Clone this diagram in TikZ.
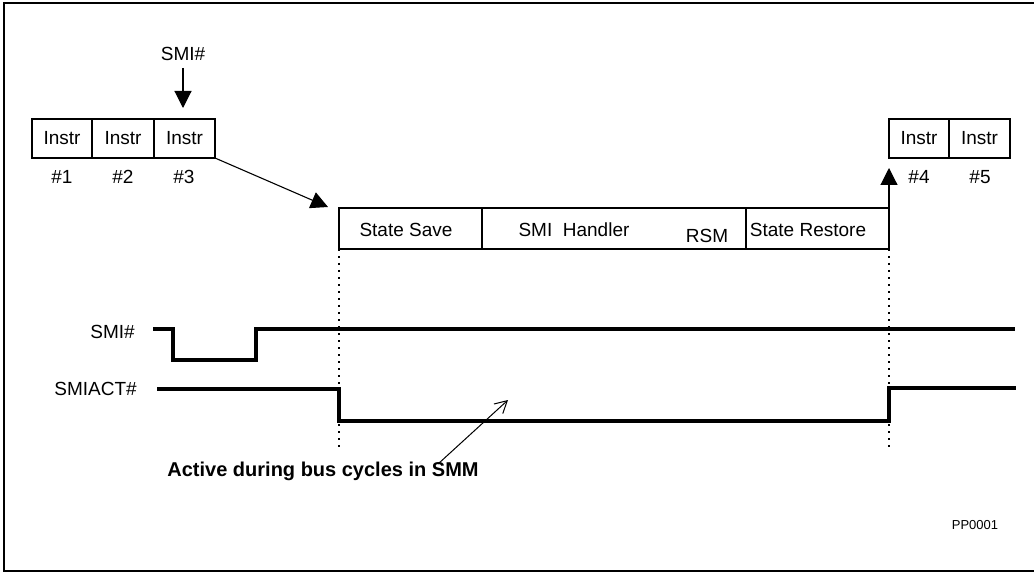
\documentclass[tikz,border=0pt]{standalone}
\usepackage{fontspec}
\setmainfont{Liberation Sans}
\usetikzlibrary{arrows.meta}
\begin{document}
\begin{tikzpicture}[x=1pt,y=-1pt,
  cell/.style={draw, line width=1.1pt, inner sep=0pt, outer sep=0pt, minimum height=39pt, font=\fontsize{19}{22}\selectfont},
  bigcell/.style={draw, line width=1.1pt, inner sep=0pt, outer sep=0pt, minimum height=41pt, minimum width=#1},
  lbl/.style={font=\fontsize{19}{22}\selectfont, inner sep=0pt},
  wave/.style={line width=3.5pt},
  bigarrow/.style={line width=1.1pt, -{Triangle[length=17pt,width=17pt]}},
  dotline/.style={line width=1.2pt, dash pattern=on 2pt off 5pt},
  notearrow/.style={line width=1pt, -{Straight Barb[length=12pt,width=13pt]}},
]
\useasboundingbox (0,0) rectangle (1034,572);
\draw[line width=1.8pt] (1040,3) -- (4,3) -- (4,571) -- (1040,571);

% instruction boxes
\node[cell, minimum width=60pt] (i1) at (62,138.5) {Instr};
\node[cell, minimum width=62pt] (i2) at (123,138.5) {Instr};
\node[cell, minimum width=61pt] (i3) at (184.5,138.5) {Instr};
\node[cell, minimum width=60pt] (i4) at (919,138.5) {Instr};
\node[cell, minimum width=61pt] (i5) at (979.5,138.5) {Instr};
\node[lbl] (n1) at (62,177) {\#1};
\node[lbl] (n2) at (123,177) {\#2};
\node[lbl] (n3) at (184,177) {\#3};
\node[lbl] (n4) at (919,177) {\#4};
\node[lbl] (n5) at (980,177) {\#5};

% SMM box
\node[bigcell=143pt] (ss) at (410.5,228.5) {};
\node[bigcell=264pt] (handler) at (614,228.5) {};
\node[bigcell=143pt] (restore) at (817.5,228.5) {};
\node[lbl] (sstext) at (406,230) {State Save};
\node[lbl] (htext) at (574,230) {SMI\ \ Handler};
\node[lbl] (rsm) at (707,236) {RSM};
\node[lbl] (rtext) at (808,230) {State Restore};

% arrows
\node[lbl] (smitop) at (183,54) {SMI\#};
\draw[bigarrow] ([yshift=-7pt]smitop.south) -- ([xshift=-1.5pt,yshift=11pt]i3.north);
\draw[bigarrow] (i3.south east) -- ([xshift=-11pt,yshift=1pt]ss.north west);
\draw[bigarrow] (restore.north east) -- ([yshift=-10pt]i4.south west);

% dotted guides
\draw[dotline] (ss.south west) -- ++(0,201);
\draw[dotline] (restore.south east) -- ++(0,201);

% waveforms
\node[lbl, anchor=east] (smilbl) at (135,332) {SMI\#};
\node[lbl, anchor=east] (actlbl) at (137,389) {SMIACT\#};
\draw[wave] (153,329) -- (173,329) -- (173,360) -- (256,360) -- (256,329) -- (1015,329);
\draw[wave] (157,389) -- (339,389) -- (339,421) -- (889,421) -- (889,388) -- (1016,388);

% note
\node[font=\bfseries\fontsize{20}{24}\selectfont, inner sep=0pt] (note) at (323,471) {Active during bus cycles in SMM};
\coordinate (notetail) at (438,464);
\coordinate (notetip) at (508,400);
\draw[notearrow] (notetail) -- (notetip);

\node[font=\fontsize{13}{15}\selectfont, inner sep=0pt] (pp) at (975,525) {PP0001};
\end{tikzpicture}
\end{document}
